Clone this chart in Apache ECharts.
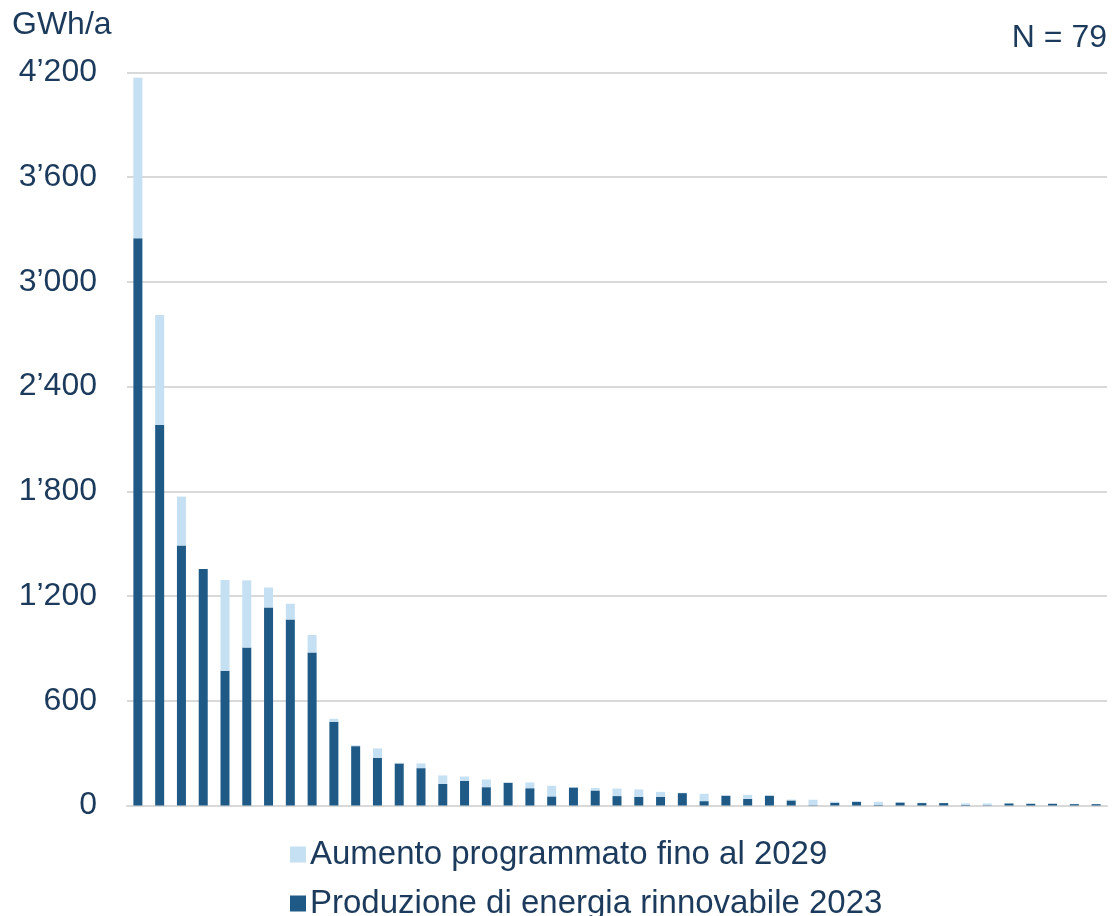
<!DOCTYPE html>
<html>
<head>
<meta charset="utf-8">
<script src="https://cdn.jsdelivr.net/npm/echarts@6/dist/echarts.min.js"></script>
<style>
  html, body { margin: 0; padding: 0; background: #ffffff; }
  #chart { width: 1112px; height: 916px; }
</style>
</head>
<body>
<div id="chart"></div>
<script>
// One bar per entity, sorted by 2023 production (GWh/a)
const categories = Array.from({ length: 45 }, (_, i) => 'E' + (i + 1));

// Renewable production in 2023
const produzione2023 = [
  3250, 2180, 1490, 1355, 772, 905, 1135, 1066, 877, 480,
  340, 273, 241, 214, 124, 141, 105, 130, 99, 52,
  103, 86, 54, 50, 50, 71, 25, 56, 38, 56,
  29, 2, 16, 21, 4, 17, 14, 14, 3, 2,
  12, 10, 10, 8, 8
];

// Planned increase up to 2029 (stacked on top)
const aumento2029 = [
  920, 630, 280, 0, 520, 385, 114, 90, 100, 17,
  5, 54, 3, 27, 48, 25, 44, 2, 33, 61,
  2, 14, 43, 42, 28, 2, 42, 3, 23, 2,
  5, 31, 6, 4, 17, 2, 2, 1, 9, 10,
  1, 1, 0, 2, 1
];

const yTicks = { min: 0, max: 4200, interval: 600 };
const nameAumento = 'Aumento programmato fino al 2029';
const nameProduzione = 'Produzione di energia rinnovabile 2023';

const textColor = '#1b3a5c';
const fontFamily = 'Arial, "Liberation Sans", sans-serif';

function formatThousands(v) {
  return String(v).replace(/\B(?=(\d{3})+(?!\d))/g, '\u2019');
}

// One legend block per row so the entries stack vertically
function legendRow(name, top) {
  return {
    left: 285,
    top: top,
    itemWidth: 16,
    itemHeight: 16,
    icon: 'rect',
    data: [name],
    selectedMode: false,
    textStyle: { color: textColor, fontSize: 33, fontFamily: fontFamily, padding: [0, 0, 0, -1] }
  };
}

const chart = echarts.init(document.getElementById('chart'));
chart.setOption({
  animation: false,
  backgroundColor: '#ffffff',
  grid: { left: 127, right: 5, top: 72.5, bottom: 110.5, containLabel: false },
  xAxis: {
    type: 'category',
    data: categories,
    axisLine: { show: true, lineStyle: { color: '#d9d9d9', width: 2 } },
    axisTick: { show: false },
    axisLabel: { show: false }
  },
  yAxis: {
    type: 'value',
    min: yTicks.min,
    max: yTicks.max,
    interval: yTicks.interval,
    axisLine: { show: false },
    axisTick: { show: false },
    splitLine: { lineStyle: { color: '#d9d9d9', width: 2 } },
    axisLabel: {
      margin: 30,
      color: textColor,
      fontSize: 32,
      fontFamily: fontFamily,
      padding: [4, 0, 0, 0],
      formatter: formatThousands
    }
  },
  legend: [
    legendRow(nameAumento, 833),
    legendRow(nameProduzione, 882)
  ],
  graphic: [
    {
      type: 'text', left: 12, top: 9,
      style: { text: 'GWh/a', fill: textColor, fontSize: 32, fontFamily: fontFamily }
    },
    {
      type: 'text', right: 5, top: 22,
      style: { text: 'N = 79', fill: textColor, fontSize: 32, fontFamily: fontFamily }
    }
  ],
  series: [
    {
      name: nameProduzione,
      type: 'bar',
      stack: 'totale',
      barWidth: 9,
      itemStyle: { color: '#1f5a86' },
      data: produzione2023
    },
    {
      name: nameAumento,
      type: 'bar',
      stack: 'totale',
      barWidth: 9,
      itemStyle: { color: '#c5dff3' },
      data: aumento2029
    }
  ]
});
</script>
</body>
</html>
